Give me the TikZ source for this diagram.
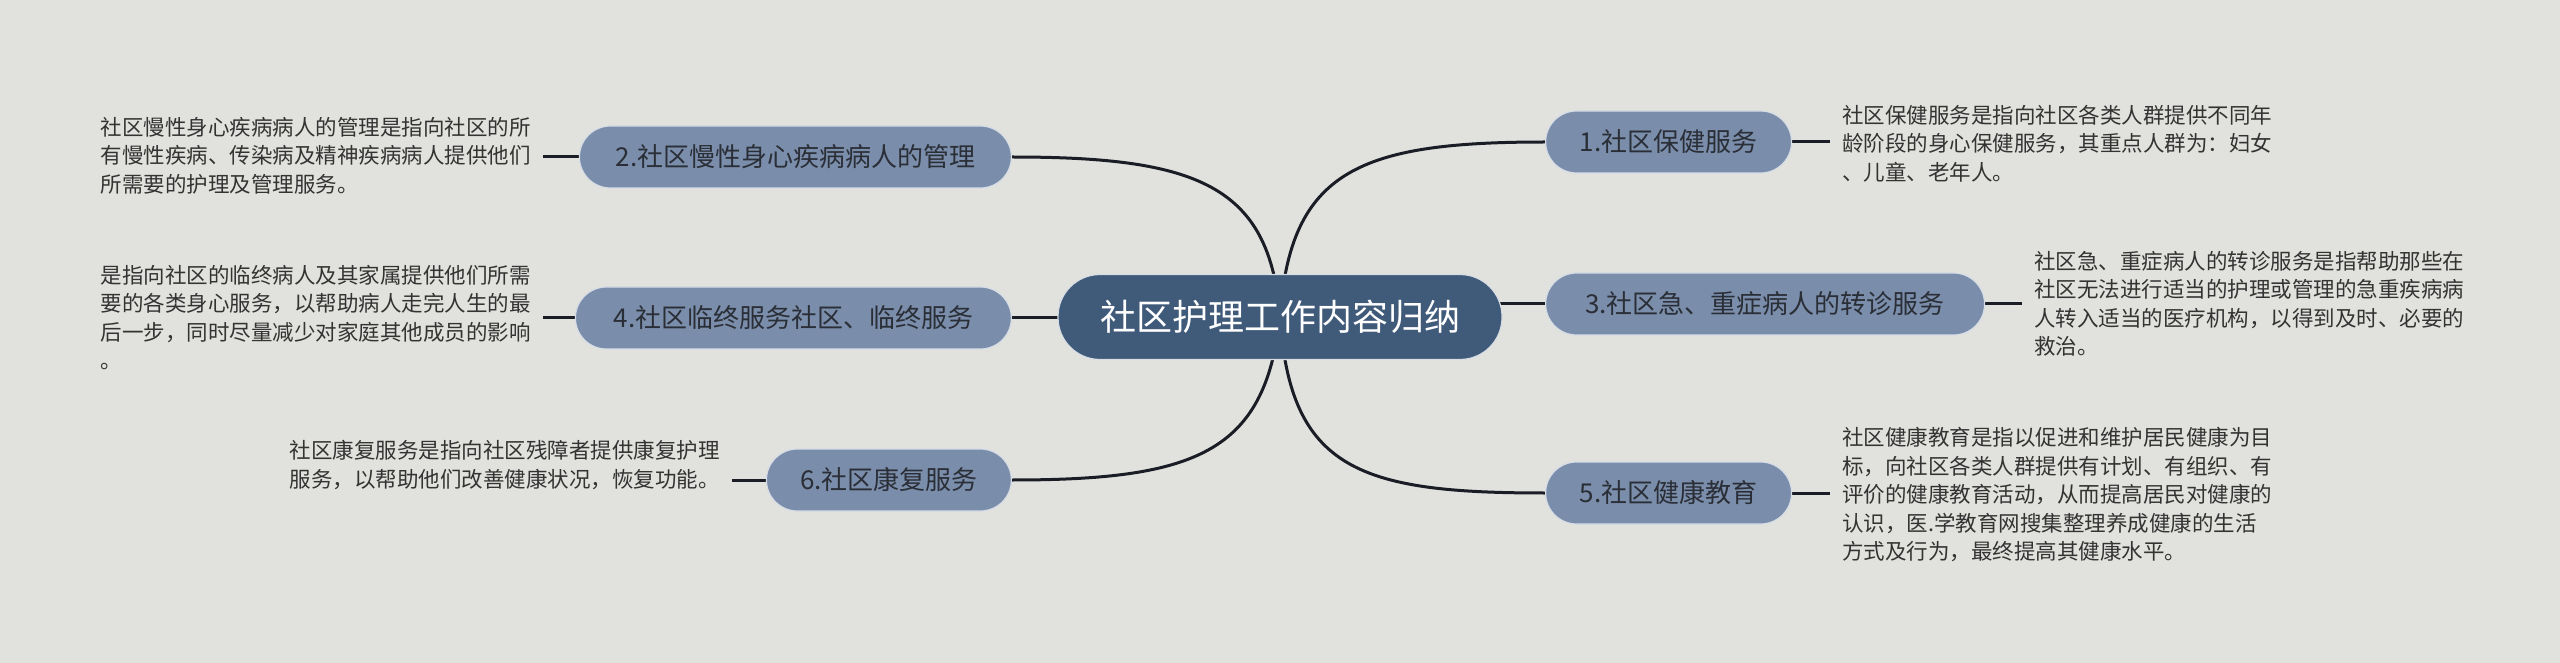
\documentclass[tikz,border=0pt]{standalone}
\usepackage{fontspec}
\setmainfont{Noto Sans CJK SC}
\usetikzlibrary{backgrounds}
\definecolor{bg}{HTML}{E1E2DD}
\definecolor{centerfill}{HTML}{405A7A}
\definecolor{branchfill}{HTML}{7A8DAA}
\definecolor{branchtext}{HTML}{2A2E36}
\definecolor{linecol}{HTML}{1A1D26}
\definecolor{txt}{HTML}{333333}
\begin{document}
\begin{tikzpicture}[x=0.5pt,y=-0.5pt,
  centerbox/.style={fill=centerfill, draw=white!80!centerfill, line width=0.6pt, rounded corners=21pt, minimum height=42.5pt, minimum width=222pt, text=white, font=\fontsize{18pt}{20pt}\selectfont, inner sep=0pt},
  branch/.style={fill=branchfill, draw=white!70!branchfill, line width=0.6pt, rounded corners=15.5pt, minimum height=31pt, text=branchtext, font=\fontsize{13pt}{15pt}\selectfont, inner sep=0pt},
  desc/.style={text=txt, align=left, font=\fontsize{10.75pt}{14.2pt}\selectfont, inner xsep=6pt, inner ysep=2pt},
  conn/.style={draw=linecol, line width=1.5pt},
]
\useasboundingbox (0,0) rectangle (2560,663);

% nodes
\node[centerbox] (c) at (1280,317) {社区护理工作内容归纳};
\node[branch, minimum width=123pt, anchor=west] (n1) at (1545,142) {1.社区保健服务};
\node[branch, minimum width=219.5pt, anchor=west] (n3) at (1545,304) {3.社区急、重症病人的转诊服务};
\node[branch, minimum width=123pt, anchor=west] (n5) at (1545,493) {5.社区健康教育};
\node[branch, minimum width=216pt, anchor=east] (n2) at (1012,157) {2.社区慢性身心疾病病人的管理};
\node[branch, minimum width=218pt, anchor=east] (n4) at (1012,318) {4.社区临终服务社区、临终服务};
\node[branch, minimum width=122.5pt, anchor=east] (n6) at (1012,480) {6.社区康复服务};

% descriptions
\node[desc, anchor=west] (t1) at (1830,143.7) {社区保健服务是指向社区各类人群提供不同年\\龄阶段的身心保健服务，其重点人群为：妇女\\、儿童、老年人。};
\node[desc, anchor=west] (t3) at (2022,303.7) {社区急、重症病人的转诊服务是指帮助那些在\\社区无法进行适当的护理或管理的急重疾病病\\人转入适当的医疗机构，以得到及时、必要的\\救治。};
\node[desc, anchor=west] (t5) at (1830,494.7) {社区健康教育是指以促进和维护居民健康为目\\标，向社区各类人群提供有计划、有组织、有\\评价的健康教育活动，从而提高居民对健康的\\认识，医.学教育网搜集整理养成健康的生活\\方式及行为，最终提高其健康水平。};
\node[desc, anchor=east] (t2) at (543,155.6) {社区慢性身心疾病病人的管理是指向社区的所\\有慢性疾病、传染病及精神疾病病人提供他们\\所需要的护理及管理服务。};
\node[desc, anchor=east] (t4) at (543,317.5) {是指向社区的临终病人及其家属提供他们所需\\要的各类身心服务，以帮助病人走完人生的最\\后一步，同时尽量减少对家庭其他成员的影响\\。};
\node[desc, anchor=east] (t6) at (732,465) {社区康复服务是指向社区残障者提供康复护理\\服务，以帮助他们改善健康状况，恢复功能。};

\begin{pgfonlayer}{background}
\fill[bg] (0,0) rectangle (2560,663);
\draw[conn] (c.center) .. controls +(10,-147) and +(-185,0) .. (n1.west);
\draw[conn] (c.center) .. controls +(-10,-132) and +(185,0) .. (n2.east);
\draw[conn] (c.center) .. controls +(10,153) and +(-185,0) .. (n5.west);
\draw[conn] (c.center) .. controls +(-15,135) and +(185,0) .. (n6.east);
\draw[conn] (c.center |- n3.west) -- (n3.west);
\draw[conn] (c.center |- n4.east) -- (n4.east);
\draw[conn] (n1.east) -- (n1.east -| t1.west);
\draw[conn] (n3.east) -- (n3.east -| t3.west);
\draw[conn] (n5.east) -- (n5.east -| t5.west);
\draw[conn] (n2.west) -- (n2.west -| t2.east);
\draw[conn] (n4.west) -- (n4.west -| t4.east);
\draw[conn] (n6.west) -- (n6.west -| t6.east);
\end{pgfonlayer}
\end{tikzpicture}
\end{document}
